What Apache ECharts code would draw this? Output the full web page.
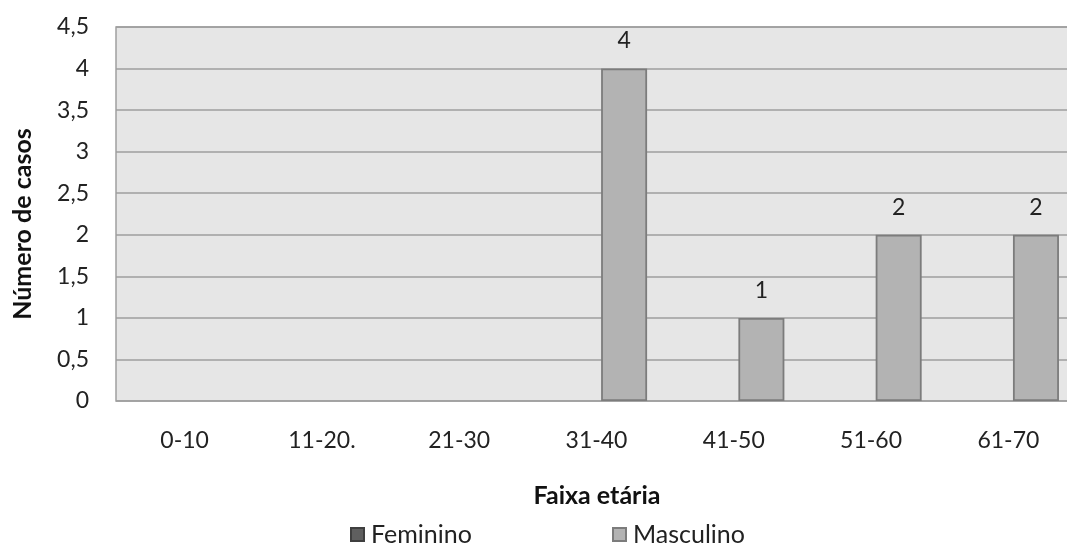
<!DOCTYPE html>
<html>
<head>
<meta charset="utf-8">
<script src="https://cdn.jsdelivr.net/npm/echarts@6/dist/echarts.min.js"></script>
<style>html,body{margin:0;padding:0;background:#fff;}#c{width:1067px;height:549px;}</style>
</head>
<body>
<div id="c"></div>
<script>
var categories = ['0-10', '11-20.', '21-30', '31-40', '41-50', '51-60', '61-70'];
var feminino = [0, 0, 0, 0, 0, 0, 0];
var masculino = [0, 0, 0, 4, 1, 2, 2];
var yTicks = [0, 0.5, 1, 1.5, 2, 2.5, 3, 3.5, 4, 4.5];
var xTitle = 'Faixa etária';
var yTitle = 'Número de casos';

var FONT = 'Lato, "Open Sans", sans-serif';
function hideZeros(arr) {
  return arr.map(function (v) {
    return v === 0 ? {value: v, itemStyle: {color: 'transparent', borderWidth: 0}} : v;
  });
}
var chart = echarts.init(document.getElementById('c'), null, {renderer: 'canvas'});
chart.setOption({
  animation: false,
  textStyle: {fontFamily: FONT},
  grid: {
    left: 116, top: 27, width: 961, height: 374,
    outerBoundsMode: 'none', containLabel: false,
    show: true, backgroundColor: '#e6e6e6', borderColor: '#a0a0a0', borderWidth: 1.5
  },
  legend: [{
    left: 350, top: 522, padding: 0, itemWidth: 13, itemHeight: 13,
    icon: 'rect',
    textStyle: {fontSize: 25, color: '#222', fontFamily: FONT, padding: [0, 0, 0, 2]},
    data: ['Feminino']
  }, {
    left: 612, top: 522, padding: 0, itemWidth: 13, itemHeight: 13,
    icon: 'rect',
    textStyle: {fontSize: 25, color: '#222', fontFamily: FONT, padding: [0, 0, 0, 2]},
    data: ['Masculino']
  }],
  graphic: [{
    type: 'text', x: 597, y: 496,
    style: {text: xTitle, font: 'bold 25px ' + FONT, fill: '#111', align: 'center', verticalAlign: 'middle'}
  }, {
    type: 'text', x: 23, y: 224, rotation: Math.PI / 2,
    style: {text: yTitle, font: 'bold 25px ' + FONT, fill: '#111', align: 'center', verticalAlign: 'middle'}
  }],
  xAxis: {
    type: 'category', data: categories,
    axisLine: {show: false}, axisTick: {show: false},
    axisLabel: {fontSize: 23, color: '#222', margin: 28, fontFamily: FONT},
    splitLine: {show: false}
  },
  yAxis: {
    type: 'value', min: yTicks[0], max: yTicks[yTicks.length - 1], interval: 0.5,
    axisLine: {show: false}, axisTick: {show: false},
    axisLabel: {fontSize: 23, color: '#222', margin: 27, fontFamily: FONT,
      formatter: function (v) { return String(v).replace('.', ','); }},
    splitLine: {lineStyle: {color: '#9e9e9e', width: 1.5}}
  },
  series: [{
    name: 'Feminino', type: 'bar', data: hideZeros(feminino),
    barWidth: 46, barGap: '20%',
    itemStyle: {color: '#5f5f5f', borderColor: '#3f3f3f', borderWidth: 1}
  }, {
    name: 'Masculino', type: 'bar', data: hideZeros(masculino),
    barWidth: 46, barGap: '20%',
    itemStyle: {color: '#b3b3b3', borderColor: '#7c7c7c', borderWidth: 1.8},
    label: {show: true, position: 'top', distance: 16, fontSize: 23, color: '#222', fontFamily: FONT,
      formatter: function (p) { return p.value ? String(p.value) : ''; }}
  }]
});
</script>
</body>
</html>
